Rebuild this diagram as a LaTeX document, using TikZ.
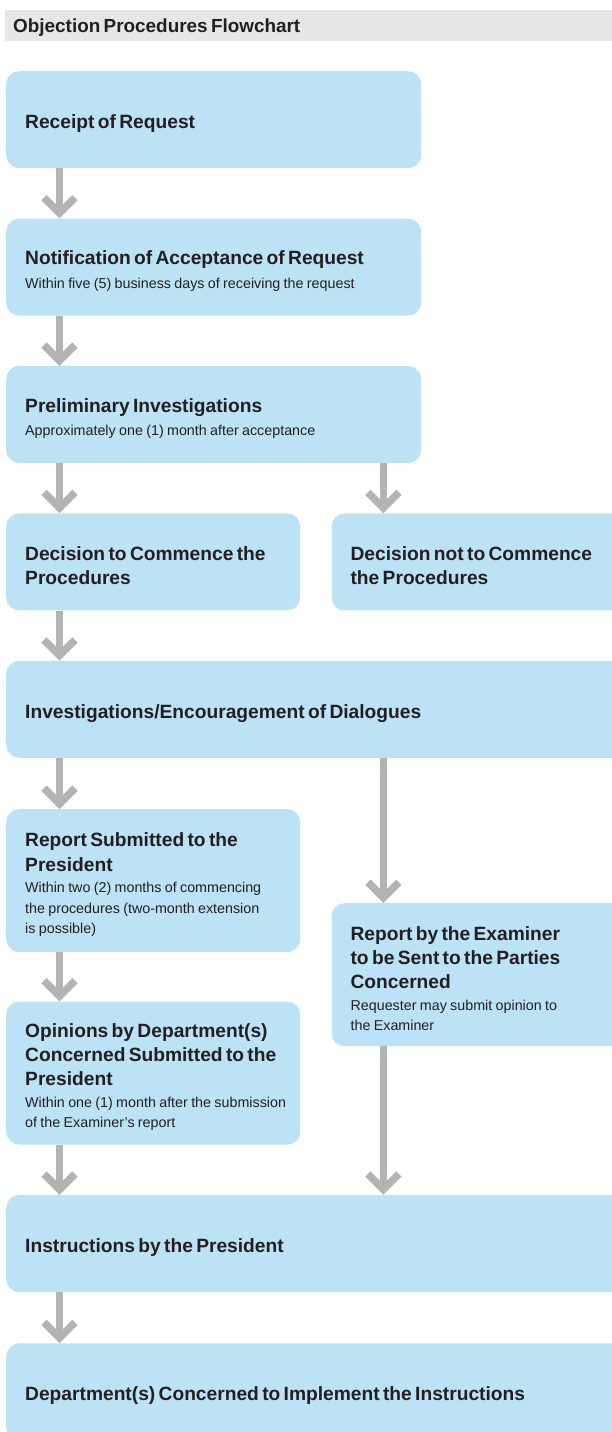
\documentclass[tikz,border=0pt]{standalone}
\usepackage{fontspec}
\setmainfont{Liberation Sans}
\usepackage{xcolor}
\usepackage{tikz}
\usetikzlibrary{arrows.meta,positioning}

\definecolor{boxblue}{RGB}{188,226,246}
\definecolor{flowgray}{RGB}{179,179,179}
\definecolor{bargray}{RGB}{230,230,230}
\definecolor{ink}{RGB}{35,31,32}

\newcommand{\headfont}{\fontsize{18.9}{22}\selectfont\bfseries}
\newcommand{\stagefont}{\fontsize{19.2}{24.3}\selectfont\bfseries}
\newcommand{\notefont}{\fontsize{14.3}{20.3}\selectfont}

\tikzset{
    stage/.style={rectangle, rounded corners=13pt, fill=boxblue, text=ink, align=left,
        inner xsep=19pt, inner ysep=0pt, minimum height=97pt, text width=377pt,
        execute at begin node={\rule{0pt}{22pt}}},
    narrow/.style={text width=256pt},
    wide/.style={text width=582pt},
    tall/.style={minimum height=143pt},
    banner/.style={rectangle, fill=bargray, text=ink, align=left, anchor=north west,
        inner xsep=8pt, inner ysep=0pt, minimum height=31pt, text width=591pt,
        execute at begin node={\rule{0pt}{18pt}}},
    flow/.style={draw=flowgray, line width=7.5pt,
        -{Straight Barb[length=15.5pt,width=31pt,line cap=butt,line join=miter]}}
}

\begin{document}
\begin{tikzpicture}[x=1pt, y=-1pt]
    \useasboundingbox (0,0) rectangle (612,1432);
    \clip (0,0) rectangle (612,1432);

    \node (heading) [banner] at (5,10) {\headfont Objection Procedures Flowchart\par};

    % main column
    \node (receipt) [stage, anchor=north west] at (6,71) {\stagefont Receipt of Request\par};
    \node (notice) [stage, below=50pt of receipt] {{\stagefont Notification of Acceptance of Request\par}\vspace{3pt}{\notefont Within five (5) business days of receiving the request\par}};
    \node (prelim) [stage, below=50pt of notice] {{\stagefont Preliminary Investigations\par}\vspace{3pt}{\notefont Approximately one (1) month after acceptance\par}};
    \node (commence) [stage, narrow, below=50pt of prelim.south west, anchor=north west] {\stagefont Decision to Commence the\\Procedures\par};
    \node (nocommence) [stage, text width=262pt, right=31pt of commence] {\stagefont Decision not to Commence\\the Procedures\par};
    \node (investig) [stage, wide, below=50pt of commence.south west, anchor=north west] {\stagefont Investigations/Encouragement of Dialogues\par};
    \node (report) [stage, narrow, tall, below=51pt of investig.south west, anchor=north west] {{\stagefont Report Submitted to the\\President\par}\vspace{1.5pt}{\notefont Within two (2) months of commencing\\the procedures (two-month extension\\is possible)\par}};
    \node (examiner) [stage, text width=262pt, tall, right=31pt of report.north east, anchor=north west, yshift=-94pt] {{\stagefont Report by the Examiner\\to be Sent to the Parties\\Concerned\par}\vspace{1.5pt}{\notefont Requester may submit opinion to\\the Examiner\par}};
    \node (opinions) [stage, narrow, tall, below=49pt of report.south west, anchor=north west] {{\stagefont Opinions by Department(s)\\Concerned Submitted to the\\President\par}\vspace{1.5pt}{\notefont \mbox{Within one (1) month after the submission}\\of the Examiner’s report\par}};
    \node (instruct) [stage, wide, below=50pt of opinions.south west, anchor=north west] {\stagefont Instructions by the President\par};
    \node (implement) [stage, wide, below=51pt of instruct.south west, anchor=north west] {\stagefont Department(s) Concerned to Implement the Instructions\par};

    % connectors, left column
    \draw[flow] ([xshift=53.5pt]receipt.south west) -- ([xshift=53.5pt]notice.north west);
    \draw[flow] ([xshift=53.5pt]notice.south west) -- ([xshift=53.5pt]prelim.north west);
    \draw[flow] ([xshift=53.5pt]prelim.south west) -- ([xshift=53.5pt]commence.north west);
    \draw[flow] ([xshift=53.5pt]commence.south west) -- ([xshift=53.5pt]investig.north west);
    \draw[flow] ([xshift=53.5pt]investig.south west) -- ([xshift=53.5pt]report.north west);
    \draw[flow] ([xshift=53.5pt]report.south west) -- ([xshift=53.5pt]opinions.north west);
    \draw[flow] ([xshift=53.5pt]opinions.south west) -- ([xshift=53.5pt]instruct.north west);
    \draw[flow] ([xshift=53.5pt]instruct.south west) -- ([xshift=53.5pt]implement.north west);

    % connectors, right column
    \draw[flow] ([xshift=52pt]nocommence.north west |- prelim.south) -- ([xshift=52pt]nocommence.north west);
    \draw[flow] ([xshift=52pt]examiner.north west |- investig.south) -- ([xshift=52pt]examiner.north west);
    \draw[flow] ([xshift=52pt]examiner.south west) -- ([xshift=52pt]examiner.south west |- instruct.north);
\end{tikzpicture}
\end{document}
